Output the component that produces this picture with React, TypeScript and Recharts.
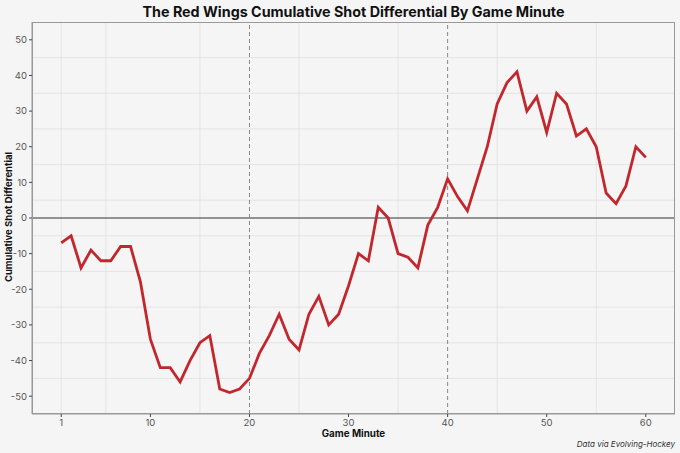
import React from 'react';
import { LineChart, Line, XAxis, YAxis, CartesianGrid, ReferenceLine, Label } from 'recharts';

// cumulative shot differential at the end of each game minute
const minutes = Array.from({ length: 60 }, (_, i) => i + 1);
const differential = [
  -7, -5, -14, -9, -12, -12, -8, -8, -18, -34,
  -42, -42, -46, -40, -35, -33, -48, -49, -48, -45,
  -38, -33, -27, -34, -37, -27, -22, -30, -27, -19,
  -10, -12, 3, 0, -10, -11, -14, -2, 3, 11,
  6, 2, 11, 20, 32, 38, 41, 30, 34, 24,
  35, 32, 23, 25, 20, 7, 4, 9, 20, 17,
];

const xTicks = [1, 10, 20, 30, 40, 50, 60];
const xMinor = [5.5, 15, 25, 35, 45, 55];
const yTicks = [-50, -40, -30, -20, -10, 0, 10, 20, 30, 40, 50];
const yMinor = [-45, -35, -25, -15, -5, 5, 15, 25, 35, 45];
const periodBreaks = [20, 40];

const data = minutes.map((m, i) => ({ minute: m, diff: differential[i] }));

const FONT = 'Inter, "Noto Sans", sans-serif';
const BG = '#f5f5f5';

if (typeof document !== 'undefined') document.body.style.margin = '0';

const App: React.FC = () => {
  return (
    <div style={{ position: 'relative', width: 680, height: 453, background: BG, fontFamily: FONT }}>
      <div
        style={{
          position: 'absolute', left: 32, width: 643, top: 3, textAlign: 'center',
          fontSize: 14.3, fontWeight: 700, color: '#111',
        }}
      >
        The Red Wings Cumulative Shot Differential By Game Minute
      </div>
      <svg width={16} height={453} style={{ position: 'absolute', left: 0, top: 0 }}>
        <text
          x={8}
          y={217}
          transform="rotate(-90 8 217)"
          textAnchor="middle"
          dominantBaseline="central"
          fontSize={9.5}
          fontWeight={700}
          fill="#111"
          fontFamily={FONT}
        >
          Cumulative Shot Differential
        </text>
      </svg>
      <div
        style={{
          position: 'absolute', right: 5, top: 439, fontSize: 8,
          fontStyle: 'italic', color: '#333',
        }}
      >
        Data via Evolving-Hockey
      </div>
      <LineChart
        width={680}
        height={453}
        data={data}
        margin={{ top: 22, right: 5, left: 0, bottom: 0 }}
        style={{ fontFamily: FONT }}
      >
        <CartesianGrid
          stroke="#e0e0e0"
          strokeWidth={0.8}
          horizontalValues={[...yTicks, ...yMinor]}
          verticalValues={[...xTicks, ...xMinor]}
        />
        <XAxis
          dataKey="minute"
          type="number"
          domain={[-1.95, 62.95]}
          ticks={xTicks}
          allowDataOverflow
          height={39}
          tickSize={3}
          tickLine={{ stroke: '#444' }}
          axisLine={{ stroke: '#999' }}
          tick={{ fontSize: 9.5, fill: '#555' }}
        >
          <Label value="Game Minute" position="insideTop" offset={16} fontSize={9.8} fontWeight={700} fill="#111" />
        </XAxis>
        <YAxis
          type="number"
          domain={[-55, 55]}
          ticks={yTicks}
          allowDataOverflow
          width={32}
          tickSize={3}
          tickLine={{ stroke: '#444' }}
          axisLine={{ stroke: '#999' }}
          tick={{ fontSize: 9.5, fill: '#555' }}
        />
        <ReferenceLine y={0} stroke="#333" strokeWidth={1.2} />
        {periodBreaks.map((m) => (
          <ReferenceLine key={m} x={m} stroke="#888" strokeWidth={1} strokeDasharray="4 3" />
        ))}
        <Line
          type="linear"
          dataKey="diff"
          stroke="#c1272d"
          strokeWidth={2.8}
          dot={false}
          isAnimationActive={false}
        />
      </LineChart>
      <div
        style={{
          position: 'absolute', left: 32, top: 22, width: 643, height: 392,
          boxSizing: 'border-box', border: '1px solid #999', pointerEvents: 'none',
        }}
      />
    </div>
  );
};

export default App;
